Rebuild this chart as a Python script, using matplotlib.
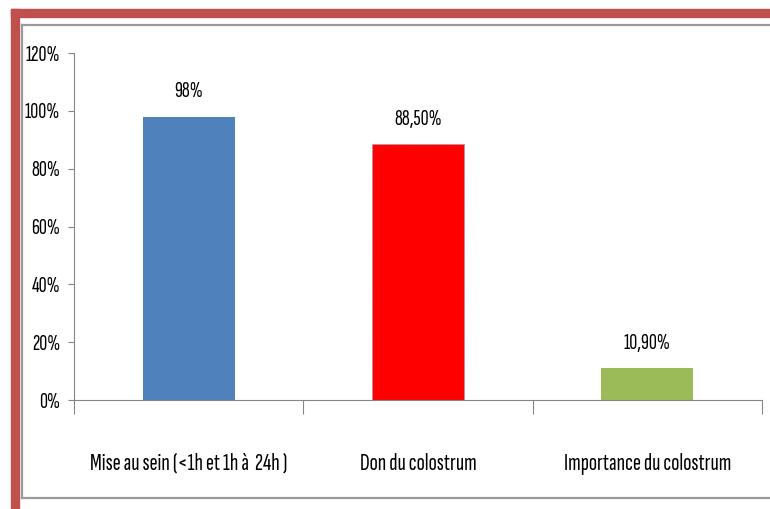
import matplotlib
matplotlib.use("Agg")
import matplotlib.pyplot as plt
from matplotlib.lines import Line2D
from matplotlib.patches import Rectangle
from matplotlib.ticker import FuncFormatter, FixedLocator

categories = ["Mise au sein (<1h et 1h à  24h )", "Don du colostrum", "Importance du colostrum"]
values = [0.98, 0.885, 0.109]
value_labels = ["98%", "88,50%", "10,90%"]
bar_colors = ["#4F81BD", "#FF0000", "#9BBB59"]
y_ticks = [0, 0.2, 0.4, 0.6, 0.8, 1.0, 1.2]

plt.rcParams["font.family"] = ["Sofia Sans Extra Condensed", "DejaVu Sans"]

fig = plt.figure(figsize=(7.7, 5.09), dpi=100)
W, H = 770, 509

def fx(px):
    return px / W

def fy(py):
    return 1 - py / H

# outer red frame (top and left)
fig.patches.append(Rectangle((fx(11), fy(17)), fx(770) - fx(11), fy(9) - fy(17),
                             transform=fig.transFigure, color="#C0504D", zorder=0))
fig.patches.append(Rectangle((fx(11), 0), fx(19) - fx(11), fy(9),
                             transform=fig.transFigure, color="#C0504D", zorder=0))
# inner grey frame
for xs, ys in [([22, 770], [25, 25]), ([22, 22], [25, 498]), ([22, 770], [498, 498])]:
    fig.lines.append(Line2D([fx(v) for v in xs], [fy(v) for v in ys],
                            transform=fig.transFigure, color="#9A9A9A", lw=1.6))

ax = fig.add_axes([fx(74), fy(400), fx(762) - fx(74), fy(53) - fy(400)])
x = range(len(categories))
bars = ax.bar(x, values, width=0.40, color=bar_colors, zorder=2)
bars[1].set_edgecolor("#9A9AC0")
bars[1].set_linestyle((0, (2, 1.5)))
bars[1].set_linewidth(0.7)

for xi, v, lab in zip(x, values, value_labels):
    ax.annotate(lab, (xi, v), xytext=(0, 11), textcoords="offset points",
                ha="center", va="bottom", fontsize=16, color="#000000")

ax.set_xlim(-0.5, len(categories) - 0.5)
ax.set_ylim(0, 1.2)
ax.set_yticks(y_ticks)
ax.yaxis.set_major_formatter(FuncFormatter(lambda v, p: f"{round(v * 100)}%"))
ax.tick_params(axis="y", labelsize=16, length=4, width=0.8, color="#868686", pad=6)

ax.xaxis.set_major_locator(FixedLocator([i - 0.5 for i in range(len(categories) + 1)]))
ax.xaxis.set_major_formatter(FuncFormatter(lambda v, p: ""))
ax.xaxis.set_minor_locator(FixedLocator(list(x)))
ax.set_xticklabels(categories, minor=True)
ax.tick_params(axis="x", which="major", length=10, width=0.8, color="#868686")
ax.tick_params(axis="x", which="minor", length=0, labelsize=17.5, pad=38)

for side in ["top", "right"]:
    ax.spines[side].set_visible(False)
for side in ["left", "bottom"]:
    ax.spines[side].set_color("#868686")
    ax.spines[side].set_linewidth(0.8)

fig.savefig("out.png", dpi=100)
